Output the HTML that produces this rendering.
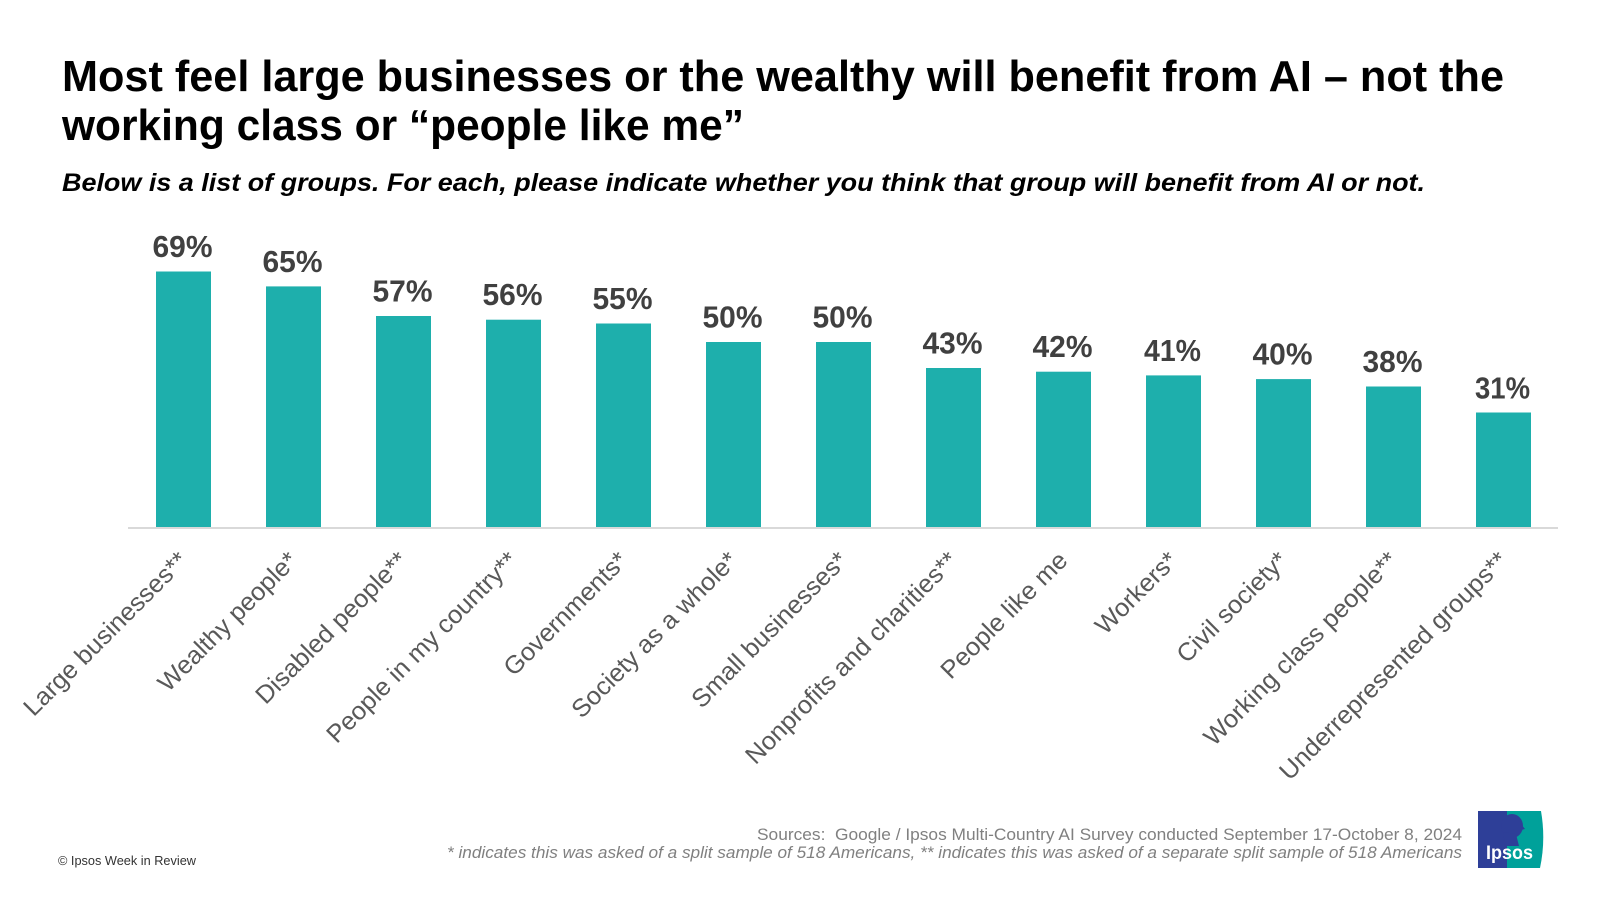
<!DOCTYPE html>
<html>
<head>
<meta charset="utf-8">
<style>
  html,body{margin:0;padding:0;background:#fff;}
  body{width:1600px;height:900px;overflow:hidden;}
  svg{display:block;}
  text{font-family:"Liberation Sans", Arial, sans-serif;}
</style>
</head>
<body>
<svg width="1600" height="900" viewBox="0 0 1600 900" xmlns="http://www.w3.org/2000/svg">
  <rect x="0" y="0" width="1600" height="900" fill="#ffffff"/>

  <!-- Title -->
  <text x="62" y="91" font-size="44" font-weight="bold" fill="#000" textLength="1442" lengthAdjust="spacingAndGlyphs">Most feel large businesses or the wealthy will benefit from AI – not the</text>
  <text x="62" y="140" font-size="44" font-weight="bold" fill="#000" textLength="682" lengthAdjust="spacingAndGlyphs">working class or “people like me”</text>
  <text x="62" y="191" font-size="25" font-weight="bold" font-style="italic" fill="#000" textLength="1363" lengthAdjust="spacingAndGlyphs">Below is a list of groups. For each, please indicate whether you think that group will benefit from AI or not.</text>

  <!-- Bars -->
  <g fill="#1eafac">
    <rect x="156" y="271.5" width="55" height="256"/>
    <rect x="266" y="286.4" width="55" height="241.1"/>
    <rect x="376" y="316" width="55" height="211.5"/>
    <rect x="486" y="319.7" width="55" height="207.8"/>
    <rect x="596" y="323.5" width="55" height="204"/>
    <rect x="706" y="342" width="55" height="185.5"/>
    <rect x="816" y="342" width="55" height="185.5"/>
    <rect x="926" y="368" width="55" height="159.5"/>
    <rect x="1036" y="371.7" width="55" height="155.8"/>
    <rect x="1146" y="375.4" width="55" height="152.1"/>
    <rect x="1256" y="379.1" width="55" height="148.4"/>
    <rect x="1366" y="386.5" width="55" height="141"/>
    <rect x="1476" y="412.5" width="55" height="115"/>
  </g>
  <!-- baseline -->
  <rect x="128" y="527" width="1430" height="2" fill="#d9d9d9"/>

  <!-- Value labels -->
  <g font-size="31" font-weight="bold" fill="#404040" text-anchor="middle">
    <text x="182.5" y="257" textLength="60" lengthAdjust="spacingAndGlyphs">69%</text>
    <text x="292.5" y="272" textLength="60" lengthAdjust="spacingAndGlyphs">65%</text>
    <text x="402.5" y="301.5" textLength="60" lengthAdjust="spacingAndGlyphs">57%</text>
    <text x="512.5" y="305" textLength="60" lengthAdjust="spacingAndGlyphs">56%</text>
    <text x="622.5" y="309" textLength="60" lengthAdjust="spacingAndGlyphs">55%</text>
    <text x="732.5" y="327.5" textLength="60" lengthAdjust="spacingAndGlyphs">50%</text>
    <text x="842.5" y="327.5" textLength="60" lengthAdjust="spacingAndGlyphs">50%</text>
    <text x="952.5" y="353.5" textLength="60" lengthAdjust="spacingAndGlyphs">43%</text>
    <text x="1062.5" y="357" textLength="60" lengthAdjust="spacingAndGlyphs">42%</text>
    <text x="1172.5" y="361" textLength="57" lengthAdjust="spacingAndGlyphs">41%</text>
    <text x="1282.5" y="364.5" textLength="60" lengthAdjust="spacingAndGlyphs">40%</text>
    <text x="1392.5" y="372" textLength="60" lengthAdjust="spacingAndGlyphs">38%</text>
    <text x="1502.5" y="398.5" textLength="55" lengthAdjust="spacingAndGlyphs">31%</text>
  </g>

  <!-- Category labels (rotated) -->
  <g font-size="25" fill="#595959" text-anchor="end">
    <text transform="translate(189,562) rotate(-45) scale(1.02,1)">Large businesses**</text>
    <text transform="translate(299,562) rotate(-45) scale(1.02,1)">Wealthy people*</text>
    <text transform="translate(409,562) rotate(-45) scale(1.02,1)">Disabled people**</text>
    <text transform="translate(519,562) rotate(-45) scale(1.02,1)">People in my country**</text>
    <text transform="translate(629,562) rotate(-45) scale(1.02,1)">Governments*</text>
    <text transform="translate(739,562) rotate(-45) scale(1.02,1)">Society as a whole*</text>
    <text transform="translate(849,562) rotate(-45) scale(1.02,1)">Small businesses*</text>
    <text transform="translate(959,562) rotate(-45) scale(1.02,1)">Nonprofits and charities**</text>
    <text transform="translate(1069,562) rotate(-45) scale(1.02,1)">People like me</text>
    <text transform="translate(1179,562) rotate(-45) scale(1.02,1)">Workers*</text>
    <text transform="translate(1289,562) rotate(-45) scale(1.02,1)">Civil society*</text>
    <text transform="translate(1399,562) rotate(-45) scale(1.02,1)">Working class people**</text>
    <text transform="translate(1509,562) rotate(-45) scale(1.02,1)">Underrepresented groups**</text>
  </g>

  <!-- Footer -->
  <text x="58" y="865" font-size="13" fill="#333333" textLength="138" lengthAdjust="spacingAndGlyphs">© Ipsos Week in Review</text>
  <text x="1462" y="840" font-size="17" fill="#808080" text-anchor="end" textLength="705" lengthAdjust="spacingAndGlyphs">Sources:&#160; Google / Ipsos Multi-Country AI Survey conducted September 17-October 8, 2024</text>
  <text x="1462" y="858" font-size="17" font-style="italic" fill="#808080" text-anchor="end" textLength="1015" lengthAdjust="spacingAndGlyphs">* indicates this was asked of a split sample of 518 Americans, ** indicates this was asked of a separate split sample of 518 Americans</text>

  <!-- Ipsos logo -->
  <g>
    <path d="M1478,811 H1541 Q1546,840 1540,868 H1478 Z" fill="#00a19a"/>
    <rect x="1478" y="811" width="29" height="57" fill="#2e3f98"/>
    <ellipse cx="1512" cy="826" rx="11" ry="12" fill="#2e3f98"/>
    <path d="M1503,832 L1505,846 L1519,846 L1516,834 Z" fill="#2e3f98"/>
    <path d="M1521,824 L1525,829 L1521,830 Z" fill="#2e3f98"/>
    <text x="1486" y="859" font-size="19" font-weight="bold" fill="#ffffff" textLength="47" lengthAdjust="spacingAndGlyphs">Ipsos</text>
  </g>
</svg>
</body>
</html>
